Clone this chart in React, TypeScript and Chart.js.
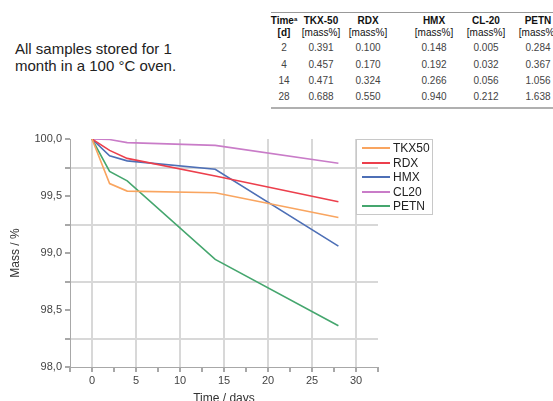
import React, { useEffect, useRef } from 'react';
import { Chart, registerables } from 'chart.js';

Chart.register(...registerables);

// ---- data ----
const DAYS = [0, 2, 4, 14, 28];
const SERIES_NAMES = ['TKX50', 'RDX', 'HMX', 'CL20', 'PETN'];
const MASS_TKX50 = [100, 99.609, 99.543, 99.529, 99.312];
const MASS_RDX = [100, 99.9, 99.83, 99.676, 99.45];
const MASS_HMX = [100, 99.852, 99.808, 99.734, 99.06];
const MASS_CL20 = [100, 99.995, 99.968, 99.944, 99.788];
const MASS_PETN = [100, 99.716, 99.633, 98.944, 98.362];

const TABLE_DAYS = [2, 4, 14, 28];
const TABLE_HEADERS = ['TKX-50', 'RDX', 'HMX', 'CL-20', 'PETN'];
const LOSS_TKX50 = ['0.391', '0.457', '0.471', '0.688'];
const LOSS_RDX = ['0.100', '0.170', '0.324', '0.550'];
const LOSS_HMX = ['0.148', '0.192', '0.266', '0.940'];
const LOSS_CL20 = ['0.005', '0.032', '0.056', '0.212'];
const LOSS_PETN = ['0.284', '0.367', '1.056', '1.638'];

const X_MIN = -2.5;
const X_MAX = 32.5;
const X_STEP = 2.5;
const Y_MIN = 98;
const Y_MAX = 100;
const Y_STEP = 0.25;

// ---- styles ----
const COLORS = ['#f9a560', '#ec3f4c', '#4d6fb6', '#c97cc8', '#45a66e'];
const FONT = '"Liberation Sans", Arial, sans-serif';
const GRID = '#d8d8d8';
const AXIS = '#a8a8a8';

const legendPlugin = {
  id: 'boxLegend',
  afterDraw(chart: any) {
    const { ctx, chartArea } = chart;
    const x0 = chartArea.right - 22;
    const y0 = chartArea.top;
    const w = 76;
    const h = 75;
    ctx.save();
    ctx.strokeStyle = '#c8c8c8';
    ctx.lineWidth = 1;
    ctx.strokeRect(Math.round(x0) + 0.5, Math.round(y0) + 0.5, w, h);
    ctx.font = `12px ${FONT}`;
    ctx.textBaseline = 'middle';
    chart.data.datasets.forEach((ds: any, i: number) => {
      const y = Math.round(y0 + 9 + i * 14.5);
      ctx.strokeStyle = ds.borderColor;
      ctx.lineWidth = 2;
      ctx.beginPath();
      ctx.moveTo(x0 + 6, y);
      ctx.lineTo(x0 + 34, y);
      ctx.stroke();
      ctx.fillStyle = '#222';
      ctx.fillText(ds.label, x0 + 37, y + 0.5);
    });
    ctx.restore();
  },
};

const isMultiple = (v: number, m: number) => Math.abs(v / m - Math.round(v / m)) < 1e-6;

export default function App() {
  const ref = useRef<HTMLCanvasElement>(null);

  useEffect(() => {
    const series = [MASS_TKX50, MASS_RDX, MASS_HMX, MASS_CL20, MASS_PETN];
    const chart = new Chart(ref.current as HTMLCanvasElement, {
      type: 'line',
      data: {
        datasets: series.map((s, i) => ({
          label: SERIES_NAMES[i],
          data: DAYS.map((d, j) => ({ x: d, y: s[j] })),
          borderColor: COLORS[i],
          backgroundColor: COLORS[i],
          borderWidth: 1.6,
          pointRadius: 0,
          tension: 0,
          fill: false,
        })),
      },
      options: {
        responsive: false,
        animation: false,
        devicePixelRatio: 1,
        layout: { padding: { left: 0, top: 19, right: 175, bottom: 0 } },
        plugins: { legend: { display: false }, tooltip: { enabled: false } },
        scales: {
          x: {
            type: 'linear',
            min: X_MIN,
            max: X_MAX,
            afterFit: (s: any) => { s.height = 53; },
            ticks: {
              stepSize: X_STEP,
              autoSkip: false,
              maxRotation: 0,
              padding: 2,
              color: '#444',
              font: { family: FONT, size: 11 },
              callback: (v: any) => (isMultiple(Number(v), 5) ? String(v) : ''),
            },
            grid: {
              color: (c: any) => (isMultiple(c.tick.value, 5) ? GRID : 'rgba(0,0,0,0)'),
              lineWidth: 2,
              tickColor: AXIS,
              tickLength: 5,
            },
            border: { color: AXIS, width: 1 },
            title: {
              display: true,
              text: 'Time / days',
              color: '#333',
              font: { family: FONT, size: 12 },
              padding: { top: 0, bottom: 14 },
            },
          },
          y: {
            type: 'linear',
            min: Y_MIN,
            max: Y_MAX,
            afterFit: (s: any) => { s.width = 70; },
            ticks: {
              stepSize: Y_STEP,
              autoSkip: false,
              padding: 3,
              color: '#444',
              font: { family: FONT, size: 11 },
              callback: (v: any) => (isMultiple(Number(v), 0.5) ? Number(v).toFixed(1).replace('.', ',') : ''),
            },
            grid: {
              color: (c: any) => (isMultiple(c.tick.value, 0.5) ? 'rgba(0,0,0,0)' : GRID),
              lineWidth: 2,
              tickColor: AXIS,
              tickLength: 5,
            },
            border: { color: AXIS, width: 1 },
            title: {
              display: true,
              text: 'Mass / %',
              color: '#333',
              font: { family: FONT, size: 12 },
              padding: { top: 8, bottom: 0 },
            },
          },
        },
      },
      plugins: [legendPlugin],
    } as any);
    return () => chart.destroy();
  }, []);

  const colCenters = [284, 321, 368, 434, 486, 538];
  const rowCenters = [48, 64.5, 80.5, 96.5];
  const lossCols = [LOSS_TKX50, LOSS_RDX, LOSS_HMX, LOSS_CL20, LOSS_PETN];

  const cell = (cx: number, cy: number, content: React.ReactNode, extra: React.CSSProperties = {}, key?: string) => (
    <div
      key={key}
      style={{
        position: 'absolute',
        left: cx - 30,
        top: cy - 6,
        width: 60,
        height: 12,
        lineHeight: '12px',
        textAlign: 'center',
        fontSize: 10,
        whiteSpace: 'nowrap',
        ...extra,
      }}
    >
      {content}
    </div>
  );

  return (
    <div
      style={{
        position: 'absolute',
        left: 0,
        top: 0,
        width: 553,
        height: 401,
        overflow: 'hidden',
        background: '#fff',
        fontFamily: FONT,
      }}
    >
      <div style={{ position: 'absolute', left: 15, top: 40, fontSize: 15, lineHeight: '17px', color: '#222', whiteSpace: 'nowrap' }}>
        All samples stored for 1<br />month in a 100 °C oven.
      </div>

      <div style={{ position: 'absolute', left: 271, top: 12, width: 300, height: 1, background: '#999' }} />
      <div style={{ position: 'absolute', left: 271, top: 107, width: 300, height: 2, background: '#b0b0b0' }} />
      {cell(colCenters[0], 21, <span>Time<span style={{ fontSize: 6, verticalAlign: 'top', lineHeight: '8px' }}>a</span></span>, { fontWeight: 'bold', color: '#111' }, 'h0')}
      {cell(colCenters[0], 32.5, '[d]', { fontWeight: 'bold', color: '#111' }, 'u0')}
      {TABLE_HEADERS.map((h, i) => cell(colCenters[i + 1], 21, h, { fontWeight: 'bold', color: '#111' }, 'h' + (i + 1)))}
      {TABLE_HEADERS.map((h, i) => cell(colCenters[i + 1], 32.5, '[mass%]', { color: '#111' }, 'u' + (i + 1)))}
      {TABLE_DAYS.map((d, r) => cell(colCenters[0], rowCenters[r], String(d), { color: '#444' }, 'd' + r))}
      {lossCols.map((col, c) => col.map((v, r) => cell(colCenters[c + 1], rowCenters[r], v, { color: '#444' }, 'v' + c + '-' + r)))}

      <div style={{ position: 'absolute', left: 0, top: 120, width: 553, height: 300 }}>
        <canvas ref={ref} width={553} height={300} style={{ width: 553, height: 300, display: 'block' }} />
      </div>
    </div>
  );
}
